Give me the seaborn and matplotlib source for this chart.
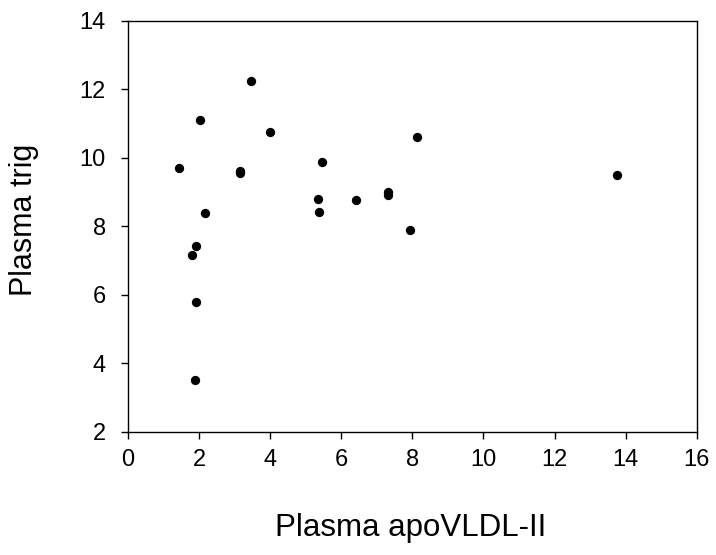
import matplotlib
matplotlib.use("Agg")
import matplotlib.pyplot as plt
import seaborn as sns
import pandas as pd

apovldl = [3.46, 2.01, 3.98, 8.12, 1.43, 3.15, 3.15, 5.45, 5.34, 5.38, 6.41,
           7.32, 7.32, 7.94, 2.16, 1.91, 1.81, 1.91, 1.87, 13.76]
trig = [12.24, 11.10, 10.76, 10.61, 9.69, 9.62, 9.55, 9.86, 8.78, 8.42, 8.75,
        9.01, 8.92, 7.88, 8.37, 7.43, 7.16, 5.80, 3.50, 9.50]

x_ticks = [0, 2, 4, 6, 8, 10, 12, 14, 16]
y_ticks = [2, 4, 6, 8, 10, 12, 14]

df = pd.DataFrame({"Plasma apoVLDL-II": apovldl, "Plasma trig": trig})

sns.set_theme(style="ticks")
plt.rcParams["font.family"] = ["Liberation Sans", "DejaVu Sans"]

fig = plt.figure(figsize=(7.16, 5.55), dpi=100)
ax = fig.add_axes([0.179, 0.222, 0.794, 0.741])
sns.scatterplot(data=df, x="Plasma apoVLDL-II", y="Plasma trig", ax=ax,
                color="black", s=45, edgecolor="black", linewidth=0)

ax.set_xlim(0, 16)
ax.set_ylim(2, 14)
ax.set_xticks(x_ticks)
ax.set_yticks(y_ticks)
ax.tick_params(axis="both", direction="out", length=5, width=1, colors="black",
               labelsize=17)
ax.tick_params(axis="x", pad=7.5)
ax.tick_params(axis="y", pad=11)
for sp in ax.spines.values():
    sp.set_visible(True)
    sp.set_color("black")
    sp.set_linewidth(1)
ax.set_xlabel("Plasma apoVLDL-II", fontsize=22.5, color="black")
ax.set_ylabel("Plasma trig", fontsize=22, color="black")
ax.xaxis.set_label_coords(0.497, -0.198)
ax.yaxis.set_label_coords(-0.157, 0.515)

fig.savefig("out.png", dpi=100, facecolor="white")
